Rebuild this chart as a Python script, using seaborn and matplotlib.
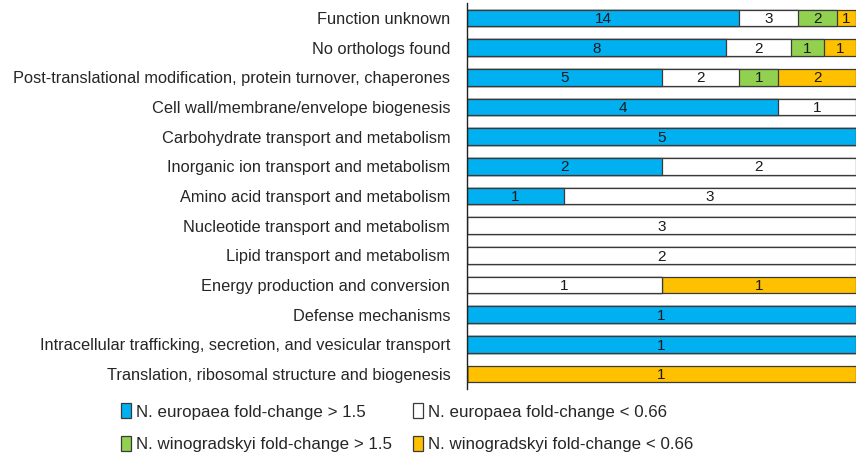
import matplotlib
matplotlib.use("Agg")
import matplotlib.pyplot as plt
import seaborn as sns
import numpy as np
import pandas as pd
from matplotlib.patches import Patch

categories = [
    "Function unknown",
    "No orthologs found",
    "Post-translational modification, protein turnover, chaperones",
    "Cell wall/membrane/envelope biogenesis",
    "Carbohydrate transport and metabolism",
    "Inorganic ion transport and metabolism",
    "Amino acid transport and metabolism",
    "Nucleotide transport and metabolism",
    "Lipid transport and metabolism",
    "Energy production and conversion",
    "Defense mechanisms",
    "Intracellular trafficking, secretion, and vesicular transport",
    "Translation, ribosomal structure and biogenesis",
]
ne_up = [14, 8, 5, 4, 5, 2, 1, 0, 0, 0, 1, 1, 0]
ne_down = [3, 2, 2, 1, 0, 2, 3, 3, 2, 1, 0, 0, 0]
nw_up = [2, 1, 1, 0, 0, 0, 0, 0, 0, 0, 0, 0, 0]
nw_down = [1, 1, 2, 0, 0, 0, 0, 0, 0, 1, 0, 0, 1]

series_names = [
    "N. europaea fold-change > 1.5",
    "N. europaea fold-change < 0.66",
    "N. winogradskyi fold-change > 1.5",
    "N. winogradskyi fold-change < 0.66",
]
colors = ["#00B0F0", "#FFFFFF", "#92D050", "#FFC000"]

sns.set_style("white")
plt.rcParams["font.family"] = ["Liberation Sans", "DejaVu Sans"]

vals = np.array([ne_up, ne_down, nw_up, nw_down], dtype=float)
totals = vals.sum(axis=0)
props = vals / totals
cum = np.cumsum(props, axis=0)

fig = plt.figure(figsize=(8.56, 4.57), dpi=100)
ax = fig.add_axes([467 / 856, 1 - 389 / 457, 1 - 467 / 856, (389 - 3) / 457])

edge = "#3a3a3a"
for i in range(3, -1, -1):
    df = pd.DataFrame({"cat": categories, "x": cum[i]})
    sns.barplot(data=df, x="x", y="cat", orient="h", color=colors[i],
                saturation=1, width=0.56, edgecolor=edge, linewidth=0.9, ax=ax)

for i in range(4):
    for j in range(len(categories)):
        v = vals[i, j]
        if v > 0:
            center = cum[i, j] - props[i, j] / 2
            ax.text(center, j + 0.04, f"{int(v)}", ha="center", va="center",
                    fontsize=11, color="#1a1a1a")

ax.set_xlim(0, 1)
ax.set_ylim(12.5, -0.5)
ax.set_xlabel("")
ax.set_ylabel("")
ax.set_xticks([])
ax.tick_params(axis="y", length=0, pad=12, labelsize=11.8)
for s in ["top", "right", "bottom"]:
    ax.spines[s].set_visible(False)
ax.spines["left"].set_color("#222222")
ax.spines["left"].set_linewidth(1.0)

order = [0, 2, 1, 3]
handles = [Patch(facecolor=colors[k], edgecolor=edge, linewidth=0.9) for k in order]
labels = [series_names[k] for k in order]
fig.legend(handles, labels, ncol=2, loc="upper left",
           bbox_to_anchor=(106 / 856, 1 - 388 / 457), frameon=False,
           fontsize=12.2, handlelength=0.6, handleheight=1.0, handletextpad=0.3,
           columnspacing=1.2, labelspacing=0.95)

fig.savefig("out.png", dpi=100)
